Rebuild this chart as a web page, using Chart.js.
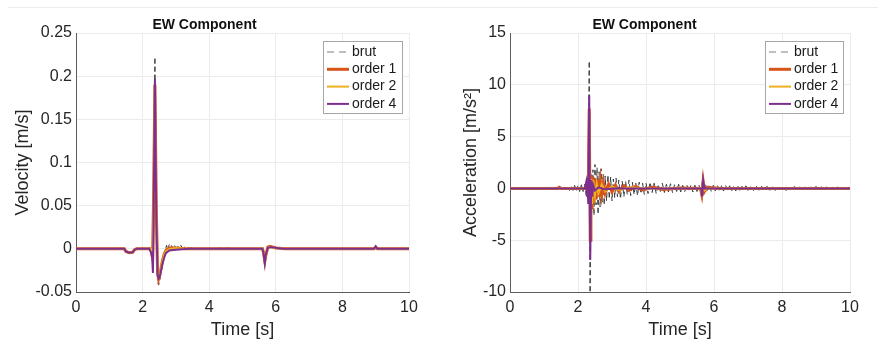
<!DOCTYPE html>
<html>
<head>
<meta charset="utf-8">
<script src="https://cdn.jsdelivr.net/npm/chart.js@4.4.1/dist/chart.umd.min.js"></script>
<style>
	body { margin: 0; background: #fff; width: 878px; height: 341px; overflow: hidden; position: relative; }
	.topline { position: absolute; top: 7px; left: 8px; right: 0; height: 1px; background: #ececec; }
	.box { position: absolute; top: 0; width: 439px; height: 341px; }
	#left { left: 0; }
	#right { left: 439px; }
</style>
</head>
<body>
<div class="topline"></div>
<div class="box" id="left"><canvas id="vel"></canvas></div>
<div class="box" id="right"><canvas id="acc"></canvas></div>
<script>
// legend / series names
const seriesNames = ['brut', 'order 1', 'order 2', 'order 4'];
const xTicks = [0, 2, 4, 6, 8, 10];

// velocity (left panel), times in s, values in m/s
const velBrutT = [0, 1.45, 1.5, 1.6, 1.7, 1.76, 1.82, 2.2, 2.26, 2.3, 2.33, 2.37, 2.41, 2.45, 2.48, 2.52, 2.56, 2.6, 2.64, 2.68, 2.72, 2.76, 2.8, 2.84, 2.88, 2.92, 2.96, 3.0, 3.05, 3.1, 3.15, 3.2, 3.25, 3.3, 3.35, 3.4, 3.5, 3.6, 3.7, 3.8, 4.5, 5.0, 5.6, 5.63, 5.67, 5.7, 5.75, 5.82, 5.95, 6.2, 8.95, 9.0, 9.05, 10];
const velBrut = [0, 0, -0.003, -0.0045, -0.004, -0.001, 0, 0, -0.006, -0.015, 0.05, 0.222, 0.04, -0.038, -0.042, -0.036, -0.026, -0.018, -0.01, -0.002, 0.004, -0.001, 0.005, 0, 0.005, -0.001, 0.004, 0, 0.004, -0.001, 0.004, 0, 0.003, -0.001, 0.003, 0, 0.002, -0.001, 0.001, 0, 0.001, 0, 0, -0.006, -0.019, -0.008, 0.002, 0.003, 0.001, 0, 0, 0.003, 0, 0];

const velOrder1T = [0, 1.45, 1.5, 1.6, 1.7, 1.76, 1.82, 2.25, 2.3, 2.33, 2.37, 2.41, 2.45, 2.48, 2.52, 2.56, 2.6, 2.65, 2.7, 2.8, 3.0, 3.3, 5.6, 5.63, 5.67, 5.71, 5.76, 5.82, 6.0, 6.3, 8.95, 9.0, 9.05, 10];
const velOrder1 = [0, 0, -0.003, -0.0045, -0.004, -0.001, 0, 0, -0.01, 0.06, 0.19, 0.05, -0.028, -0.035, -0.03, -0.021, -0.013, -0.006, -0.002, 0.001, 0.001, 0, 0, -0.004, -0.014, -0.006, 0.002, 0.003, 0.001, 0, 0, 0.002, 0, 0];

const velOrder2T = [0, 1.45, 1.5, 1.6, 1.7, 1.76, 1.82, 2.25, 2.3, 2.33, 2.37, 2.41, 2.45, 2.48, 2.52, 2.56, 2.6, 2.65, 2.7, 2.8, 3.0, 3.3, 5.6, 5.63, 5.67, 5.71, 5.76, 5.82, 6.0, 6.3, 8.95, 9.0, 9.05, 10];
const velOrder2 = [0, 0, -0.003, -0.0045, -0.004, -0.001, 0, 0, -0.012, 0.05, 0.185, 0.045, -0.027, -0.033, -0.029, -0.021, -0.014, -0.007, -0.003, 0, 0.001, 0, 0, -0.004, -0.015, -0.006, 0.001, 0.002, 0.001, 0, 0, 0.002, 0, 0];

const velOrder4T = [0, 1.45, 1.5, 1.6, 1.7, 1.76, 1.82, 2.2, 2.26, 2.29, 2.31, 2.33, 2.37, 2.41, 2.45, 2.48, 2.52, 2.56, 2.6, 2.65, 2.7, 2.8, 3.0, 3.4, 5.6, 5.63, 5.67, 5.7, 5.76, 5.85, 6.2, 8.95, 9.0, 9.05, 10];
const velOrder4 = [0, 0, -0.003, -0.0045, -0.004, -0.001, 0, 0, -0.005, -0.012, -0.028, 0.03, 0.197, 0.04, -0.03, -0.034, -0.031, -0.024, -0.017, -0.01, -0.005, -0.002, -0.001, 0, 0, -0.005, -0.017, -0.007, 0.001, 0.002, 0, 0, 0.003, 0, 0];

// acceleration (right panel), values in m/s^2
const accBrutT = [0, 1.5, 1.6, 1.65, 1.7, 1.75, 1.8, 1.85, 1.9, 1.95, 2.0, 2.05, 2.1, 2.15, 2.2, 2.24, 2.27, 2.3, 2.33, 2.355, 2.38, 2.41, 2.44, 2.47, 2.5, 2.53, 2.56, 2.59, 2.62, 2.65, 2.68, 2.71, 2.74, 2.77, 2.8, 2.84, 2.88, 2.92, 2.96, 3.0, 3.04, 3.08, 3.12, 3.16, 3.2, 3.25, 3.3, 3.35, 3.4, 3.45, 3.5, 3.55, 3.6, 3.65, 3.7, 3.75, 3.8, 3.85, 3.9, 3.95, 4.0, 4.06, 4.12, 4.18, 4.24, 4.3, 4.36, 4.42, 4.48, 4.54, 4.6, 4.66, 4.72, 4.78, 4.84, 4.9, 4.96, 5.02, 5.08, 5.14, 5.2, 5.26, 5.32, 5.38, 5.44, 5.5, 5.56, 5.62, 5.66, 5.7, 5.75, 5.8, 5.86, 5.92, 5.98, 6.04, 6.1, 6.16, 6.22, 6.28, 6.34, 6.4, 6.46, 6.52, 6.58, 6.64, 6.7, 6.76, 6.82, 6.88, 6.94, 7.0, 7.08, 7.16, 7.24, 7.32, 7.4, 7.48, 7.56, 7.64, 7.72, 7.8, 7.88, 7.96, 8.04, 8.12, 8.2, 8.28, 8.36, 8.44, 8.52, 8.6, 8.68, 8.76, 8.84, 8.92, 9.0, 9.08, 9.16, 9.24, 9.32, 9.4, 9.48, 9.56, 9.64, 9.72, 9.8, 9.88, 9.96, 10];
const accBrut = [0, 0, 0.1, -0.15, 0.2, -0.2, 0.25, -0.2, 0.3, -0.25, 0.3, -0.3, 0.35, -0.3, 0.4, -0.6, 0.8, -1.0, 12.3, -12, 1.5, -2.0, 1.8, -2.6, 2.3, -1.6, 2.0, -2.5, 1.6, -1.8, 1.9, -1.3, 1.4, -1.6, 1.2, -1.2, 1.3, -1.0, 1.1, -1.2, 0.9, -0.9, 1.0, -0.8, 0.8, -1.0, 0.7, -0.8, 0.7, -0.6, 0.8, -0.7, 0.6, -0.6, 0.5, -0.7, 0.6, -0.5, 0.5, -0.6, 0.5, -0.5, 0.6, -0.4, 0.5, -0.5, 0.4, -0.4, 0.5, -0.4, 0.4, -0.35, 0.45, -0.4, 0.35, -0.3, 0.4, -0.35, 0.3, -0.3, 0.35, -0.3, 0.3, -0.35, 0.3, -0.3, 0.3, -0.5, 0.8, -0.6, 0.4, -0.3, 0.35, -0.3, 0.3, -0.25, 0.3, -0.3, 0.25, -0.25, 0.3, -0.2, 0.25, -0.25, 0.2, -0.25, 0.25, -0.2, 0.2, -0.2, 0.25, -0.2, 0.2, -0.2, 0.25, -0.2, 0.2, -0.15, 0.2, -0.2, 0.15, -0.2, 0.2, -0.15, 0.15, -0.2, 0.15, -0.15, 0.2, -0.15, 0.15, -0.2, 0.15, -0.15, 0.15, -0.15, 0.2, -0.15, 0.15, -0.1, 0.15, -0.15, 0.1, -0.15, 0.15, -0.1, 0.1, -0.15, 0.1, 0];

const accOrder1T = [0, 1.4, 1.45, 1.5, 2.2, 2.26, 2.3, 2.33, 2.36, 2.38, 2.41, 2.44, 2.47, 2.5, 2.54, 2.58, 2.62, 2.66, 2.7, 2.75, 2.8, 2.9, 3.0, 3.1, 3.2, 3.35, 3.5, 3.7, 3.9, 4.2, 4.5, 5.0, 5.6, 5.64, 5.68, 5.72, 5.8, 6.2, 10];
const accOrder1 = [0, 0, 0.1, 0, 0, 0.4, -0.8, 7.7, -5.0, 1.3, -2.0, 1.1, -1.4, 0.9, -1.0, 0.8, -0.8, 0.6, -0.6, 0.5, -0.45, 0.4, -0.35, 0.3, -0.3, 0.25, -0.2, 0.2, -0.15, 0.12, -0.1, 0.05, 0, -0.6, 0.7, -0.3, 0.1, 0, 0];

const accOrder2T = [0, 2.2, 2.26, 2.3, 2.33, 2.36, 2.39, 2.42, 2.45, 2.5, 2.55, 2.6, 2.7, 2.8, 3.0, 3.2, 3.5, 4.0, 5.6, 5.64, 5.68, 5.72, 5.8, 10];
const accOrder2 = [0, 0, 0.3, -0.7, 6.5, -4.5, 0.9, -1.5, 0.8, -0.7, 0.5, -0.5, 0.4, -0.3, 0.2, -0.15, 0.1, 0, 0, -0.5, 0.6, -0.2, 0, 0];

const accOrder4T = [0, 2.2, 2.24, 2.26, 2.28, 2.3, 2.33, 2.36, 2.39, 2.42, 2.45, 2.5, 2.6, 2.8, 3.0, 5.62, 5.65, 5.68, 5.72, 10];
const accOrder4 = [0, 0, 0.6, -0.8, 1.0, -1.5, 9.0, -6.9, 0.8, -0.8, 0.3, -0.2, 0.1, -0.1, 0, 0, -0.8, 0.8, 0, 0];

const colors = ['#3a3a3a', '#D95319', '#EDB120', '#7E2F8E'];
const widths = [1, 3, 2, 2];
const font = '"Liberation Sans", Arial, Helvetica, sans-serif';

const pts = (t, v) => t.map((x, i) => ({x: x, y: v[i]}));

// MATLAB-like boxed legend inside the top-right corner of the axes
const boxLegend = {
	id: 'boxLegend',
	afterDraw(chart) {
		const ctx = chart.ctx;
		const a = chart.chartArea;
		const w = chart.options.plugins.boxLegend.width;
		const x0 = a.right - 7 - w, y0 = a.top + 8, h = 72;
		ctx.save();
		ctx.fillStyle = '#fff';
		ctx.fillRect(x0, y0, w, h);
		ctx.strokeStyle = '#a6a6a6';
		ctx.lineWidth = 1;
		ctx.strokeRect(x0 + 0.5, y0 + 0.5, w, h);
		ctx.font = '14px ' + font;
		ctx.textBaseline = 'middle';
		seriesNames.forEach((name, i) => {
			const y = y0 + 11 + i * 17.3;
			ctx.beginPath();
			ctx.strokeStyle = i === 0 ? '#808080' : colors[i];
			ctx.lineWidth = widths[i];
			ctx.setLineDash(i === 0 ? [7, 5] : []);
			ctx.moveTo(x0 + 4, y);
			ctx.lineTo(x0 + 26, y);
			ctx.stroke();
			ctx.setLineDash([]);
			ctx.fillStyle = '#1a1a1a';
			ctx.fillText(name, x0 + 29, y);
		});
		ctx.restore();
	}
};

// 0.25, 0.2, 0.15 ... like MATLAB, no trailing zeros, no "-0"
const fmt = (v) => {
	const n = parseFloat(Number(v).toFixed(4));
	return n === 0 ? '0' : String(n);
};

function makeChart(id, series, yMin, yMax, yStep, yTitle, axisW, padRight, yTitlePad, legendW) {
	const order = [4, 3, 2, 1];
	return new Chart(document.getElementById(id), {
		type: 'line',
		data: {
			datasets: series.map((s, i) => ({
				label: seriesNames[i],
				data: s,
				borderColor: colors[i],
				borderWidth: widths[i],
				borderDash: i === 0 ? [5, 3] : [],
				pointRadius: 0,
				tension: 0,
				fill: false,
				order: order[i]
			}))
		},
		options: {
			responsive: false,
			animation: false,
			layout: {padding: {left: 0, right: padRight, top: 0, bottom: 0}},
			plugins: {
				legend: {display: false},
				tooltip: {enabled: false},
				title: {
					display: true,
					text: 'EW Component',
					color: '#111',
					font: {family: font, size: 14, weight: 'bold', lineHeight: 1},
					padding: {top: 18.5, bottom: 0.5}
				},
				boxLegend: {width: legendW}
			},
			scales: {
				x: {
					type: 'linear',
					min: 0, max: 10,
					afterBuildTicks: (s) => { s.ticks = xTicks.map(v => ({value: v})); },
					afterFit: (s) => { s.height = 49; },
					grid: {color: '#ebebeb', drawTicks: false},
					border: {color: '#5c5c5c'},
					ticks: {color: '#262626', font: {family: font, size: 16}, padding: 6, maxRotation: 0},
					title: {display: true, text: 'Time [s]', color: '#262626', font: {family: font, size: 18}, padding: {top: 0, bottom: 0}}
				},
				y: {
					min: yMin, max: yMax,
					ticks: {stepSize: yStep, color: '#262626', font: {family: font, size: 16}, padding: 4, callback: fmt},
					afterFit: (s) => { s.width = axisW; },
					grid: {color: '#ebebeb', drawTicks: false},
					border: {color: '#5c5c5c'},
					title: {display: true, text: yTitle, color: '#262626', font: {family: font, size: 18}, padding: {top: yTitlePad, bottom: 0}}
				}
			}
		},
		plugins: [boxLegend]
	});
}

const velCanvas = document.getElementById('vel');
velCanvas.width = 439; velCanvas.height = 341;
const accCanvas = document.getElementById('acc');
accCanvas.width = 439; accCanvas.height = 341;

makeChart('vel', [
	pts(velBrutT, velBrut),
	pts(velOrder1T, velOrder1),
	pts(velOrder2T, velOrder2),
	pts(velOrder4T, velOrder4)
], -0.05, 0.25, 0.05, 'Velocity [m/s]', 76, 30, 12, 79);

makeChart('acc', [
	pts(accBrutT, accBrut),
	pts(accOrder1T, accOrder1),
	pts(accOrder2T, accOrder2),
	pts(accOrder4T, accOrder4)
], -10, 15, 5, 'Acceleration [m/s²]', 71, 28, 21, 78);
</script>
</body>
</html>
